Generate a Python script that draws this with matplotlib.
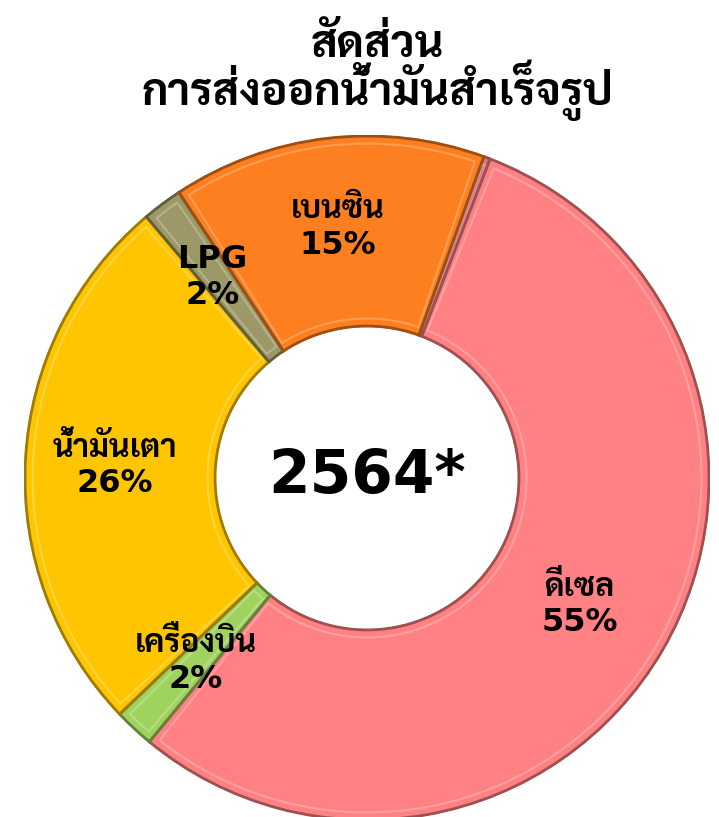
import matplotlib
matplotlib.use('Agg')
import matplotlib.pyplot as plt
import matplotlib.patches as patches
from matplotlib import font_manager
from matplotlib.colors import to_rgb

# data, clockwise from the thin slice near 12 o'clock
names  = ['', 'ดีเซล', 'เครื่องบิน', 'น้ำมันเตา', 'LPG', 'เบนซิน']
shares = [0.3, 55.4, 1.9, 26.1, 1.9, 14.9]
colors = ['#d97a86', '#ff8183', '#9fd35e', '#ffc600', '#9c9868', '#fd7f1f']
# label anchor points (data units, radius 1 = outer edge)
label_xy = [None, (0.62, -0.37), (-0.50, -0.535), (-0.735, 0.035), (-0.45, 0.585), (-0.085, 0.73)]

title_lines = ['สัดส่วน', 'การส่งออกน้ำมันสำเร็จรูป']
center_text = '2564*'

# Latin/digits in DejaVu Sans (Tahoma-like), Thai glyphs from a looped Thai face
installed = {f.name for f in font_manager.fontManager.ttflist}
thai = next((n for n in ['Sarabun', 'Noto Sans Thai Looped', 'Krub', 'Niramit', 'K2D',
                         'Noto Sans Thai', 'Bai Jamjuree'] if n in installed), 'Athiti')
plt.rcParams['font.family'] = ['DejaVu Sans', thai]

W, H = 719, 817
fig = plt.figure(figsize=(W / 100, H / 100), dpi=100)
cx, cy, R = 367, 478, 343
ax = fig.add_axes([(cx - R) / W, (H - cy - R) / H, 2 * R / W, 2 * R / H])

ring = 0.56
wedges, _ = ax.pie(shares, colors=colors, startangle=70, counterclock=False,
                   radius=1, wedgeprops=dict(width=ring, linewidth=0))
ax.set_xlim(-1, 1)
ax.set_ylim(-1, 1)
ax.axis('off')

def shade(c, f):
    r, g, b = to_rgb(c)
    if f < 1:
        return (r * f, g * f, b * f)
    return (r + (1 - r) * (f - 1), g + (1 - g) * (f - 1), b + (1 - b) * (f - 1))

# fake bevel: dark rim + light inner rim
for w, c in zip(wedges, colors):
    t1, t2 = w.theta1, w.theta2
    ax.add_patch(patches.Wedge((0, 0), 0.997, t1, t2, width=ring - 0.006, facecolor='none',
                               edgecolor=shade(c, 0.62), lw=2.0, zorder=3))
    span = t2 - t1
    pad = min(1.2, span * 0.2)
    ax.add_patch(patches.Wedge((0, 0), 0.975, t1 + pad, t2 - pad, width=ring - 0.05,
                               facecolor='none', edgecolor=shade(c, 1.35), lw=1.5,
                               alpha=0.7, zorder=3))

for n, v, xy in zip(names, shares, label_xy):
    if xy is None:
        continue
    ax.text(xy[0], xy[1], f'{n}\n{v:.0f}%', ha='center', va='center',
            fontsize=23, fontweight='bold', linespacing=1.2, zorder=5)

ax.text(0, 0.005, center_text, ha='center', va='center', fontsize=43,
        fontweight='bold', zorder=5)

fig.text(377 / W, 1 - 72 / H, '\n'.join(title_lines), ha='center', va='center',
         fontsize=32, fontweight='bold', linespacing=0.86)

fig.savefig('out.png', dpi=100, facecolor='white')
